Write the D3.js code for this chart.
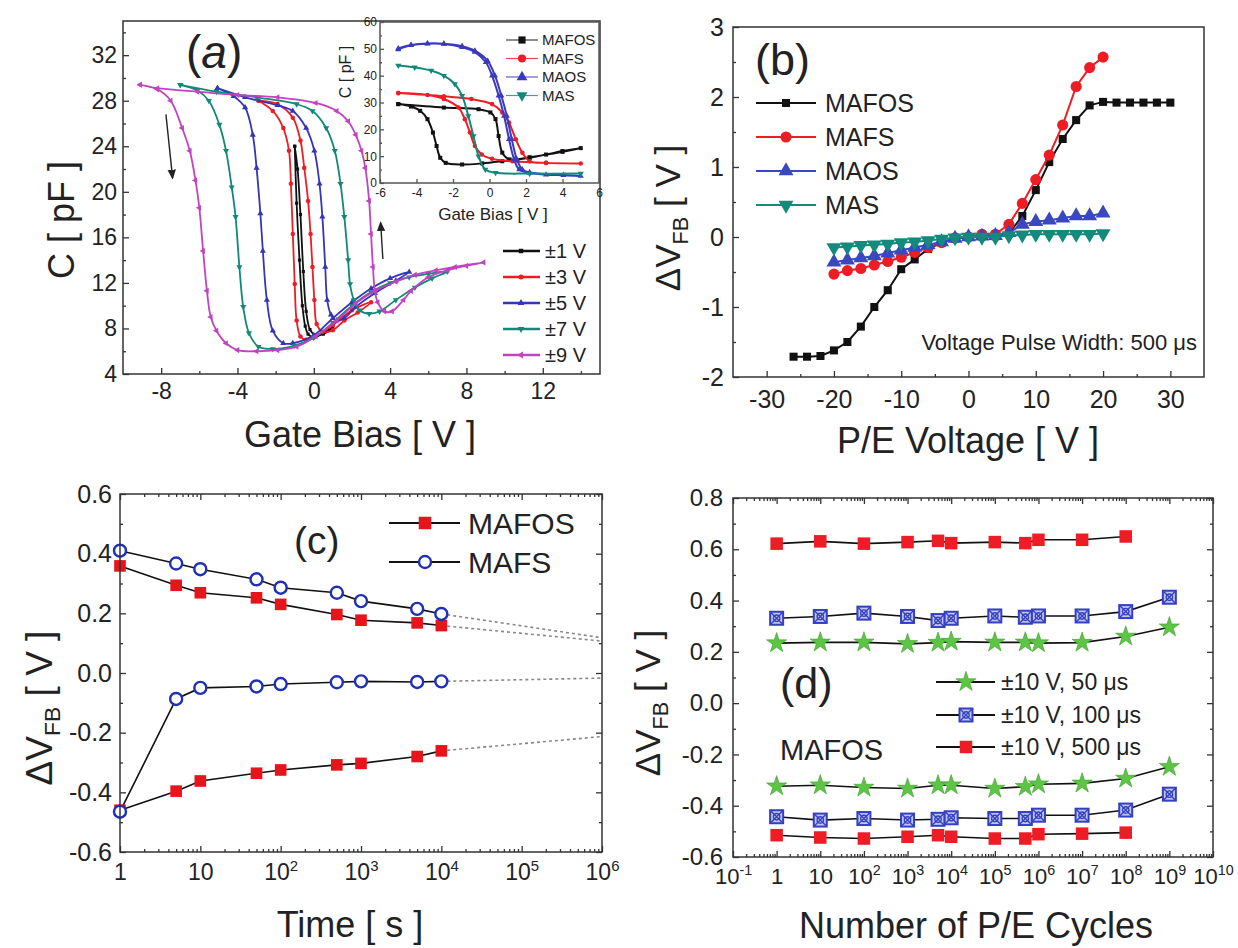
<!DOCTYPE html>
<html>
<head>
<meta charset="utf-8">
<script src="https://cdn.jsdelivr.net/npm/d3@7"></script>
<style>
body { margin: 0; background: #fff; }
svg text { font-family: 'Liberation Sans', Arial, Helvetica, sans-serif; fill: #222; }
</style>
</head>
<body>
<svg id="fig" width="1238" height="948"></svg>
<script>
// -----------------------------
// data, panel (a): C-V sweeps [V, pF]
// -----------------------------
const sweepLabels = ['±1 V', '±3 V', '±5 V', '±7 V', '±9 V']
const sweep1 = [[-1.0,24.0],[-0.9,19.0],[-0.75,14.0],[-0.6,10.0],[-0.45,8.2],[-0.3,7.5],[0.0,7.2],[0.5,7.6],[1.0,8.1],
    [0.5,7.5],[0.1,7.4],[-0.2,7.9],[-0.4,9.5],[-0.55,13.0],[-0.7,18.0],[-0.85,22.0],[-1.0,24.0]]
const sweep3 = [[-2.9,28.0],[-2.15,27.1],[-1.6,25.6],[-1.3,23.6],[-1.2,20.7],[-1.1,16.3],[-1.0,11.9],[-0.9,8.7],[-0.7,7.3],[-0.4,7.0],
    [0.0,7.2],[1.0,8.3],[2.0,9.6],[3.0,10.3],[2.3,9.4],[1.6,8.7],[1.0,7.85],[0.45,7.7],[0.15,8.4],[0.03,10.5],[-0.07,13.4],
    [-0.17,16.3],[-0.3,19.2],[-0.5,22.1],[-0.7,24.5],[-1.1,26.5],[-1.9,27.7],[-2.9,28.0]]
const sweep5 = [[-5.05,29.1],[-4.2,28.4],[-3.6,27.4],[-3.2,25.0],[-3.0,22.1],[-2.8,18.1],[-2.67,14.8],[-2.46,10.5],[-2.15,7.8],
    [-1.6,6.7],[-1.1,6.7],[0.0,7.4],[1.0,8.9],[2.0,10.3],[3.0,11.5],[4.0,12.4],[5.0,12.95],[4.3,12.2],[3.2,11.1],[2.2,9.9],
    [1.6,8.9],[1.2,8.7],[0.9,9.2],[0.7,10.5],[0.6,13.4],[0.45,17.8],[0.3,20.7],[0.03,23.6],[-0.4,25.6],[-1.1,27.1],
    [-1.9,27.6],[-3.6,28.3],[-5.05,29.1]]
const sweep7 = [[-7.0,29.4],[-6.1,28.9],[-5.5,28.0],[-4.95,25.9],[-4.6,23.6],[-4.3,20.4],[-4.1,17.8],[-3.9,13.4],[-3.7,9.9],
    [-3.4,7.6],[-2.9,6.4],[-2.15,6.2],[-1.0,6.5],[0.0,7.2],[1.0,8.5],[2.0,10.0],[3.0,11.2],[4.0,12.0],[5.0,12.5],[6.0,12.8],
    [7.0,13.0],[6.2,12.4],[5.3,11.6],[4.3,10.5],[3.45,9.5],[2.9,9.3],[2.4,9.6],[2.1,10.5],[1.9,11.9],[1.8,14.0],[1.6,17.8],
    [1.4,20.7],[1.1,23.6],[0.65,25.6],[-0.07,27.1],[-0.9,27.7],[-3.0,28.3],[-5.1,28.8],[-7.0,29.4]]
const sweep9 = [[-9.1,29.4],[-8.2,29.0],[-7.5,28.0],[-6.9,25.6],[-6.5,23.6],[-6.2,21.0],[-6.0,18.6],[-5.8,14.8],[-5.6,11.3],
    [-5.4,9.0],[-5.1,7.8],[-4.6,6.7],[-4.0,6.1],[-3.0,6.0],[-1.9,6.1],[-0.9,6.4],[0.1,7.3],[1.2,8.7],[2.2,10.2],[3.2,11.3],
    [4.3,12.1],[5.3,12.7],[6.4,13.1],[7.4,13.4],[8.9,13.8],[8.0,13.5],[7.0,13.1],[6.0,12.5],[5.1,11.3],[4.7,10.5],[4.1,9.5],
    [3.7,9.5],[3.35,10.3],[3.2,11.3],[3.1,13.4],[3.0,16.3],[2.9,19.2],[2.7,22.1],[2.5,23.6],[2.2,25.0],[1.8,26.2],[1.2,27.1],
    [0.1,27.8],[-1.9,28.3],[-4.0,28.5],[-6.1,28.8],[-8.2,29.1],[-9.1,29.4]]
// sweep direction arrows [x1, y1, x2, y2] in data units
const sweepArrows = [[-7.75, 26.8, -7.4, 21.2], [3.62, 14.1, 3.5, 17.3]]

// inset of (a)
const insetNames = ['MAFOS', 'MAFS', 'MAOS', 'MAS']
const insetMAFOS = [[-5,29.4],[-4.3,28.5],[-3.8,26.9],[-3.4,23.8],[-3.1,18.8],[-2.9,13.8],[-2.7,9.4],[-2.4,7.5],[-1.5,6.9],
    [-0.4,7.3],[0.7,8.1],[2.2,9.4],[3.1,10.6],[4.0,11.9],[5,13.0],[4.0,11.6],[2.2,9.6],[1.1,8.8],[0.7,11.3],[0.5,17.5],
    [0.33,23.8],[0.05,26.3],[-0.6,27.5],[-2.5,28.1],[-5,29.4]]
const insetMAFS = [[-5,33.5],[-3.4,32.8],[-2.5,31.3],[-1.7,28.1],[-1.35,23.8],[-1.07,18.8],[-0.8,13.8],[-0.42,10.6],[0.14,9.0],
    [1.26,8.1],[3.1,7.5],[5,7.3],[3.1,7.5],[2.2,8.1],[1.8,11.3],[1.44,16.3],[1.07,22.5],[0.7,26.3],[0.14,29.4],[-1.0,31.3],
    [-2.5,32.3],[-5,33.5]]
const insetMAOS = [[-5,49.8],[-4.3,51.3],[-3.4,51.9],[-2.5,51.8],[-1.5,50.6],[-0.8,48.8],[-0.2,45.0],[0.14,40.0],[0.5,32.5],
    [0.8,25.0],[1.07,16.3],[1.35,8.8],[1.63,5.0],[2.2,3.8],[3.1,3.1],[4.05,2.9],[5,2.6],[2.2,3.9],[1.8,5.0],[1.5,8.8],
    [1.22,16.3],[0.95,25.0],[0.65,32.5],[0.3,40.0],[-0.1,45.5],[-0.8,49.3],[-1.5,51.0],[-2.5,51.9],[-3.4,52.0],[-4.3,51.4],[-5,50.1]]
const insetMAS = [[-5,43.8],[-4.1,43.1],[-3.2,41.9],[-2.5,40.0],[-1.9,36.9],[-1.5,32.5],[-1.16,25.0],[-0.88,17.5],[-0.6,10.0],
    [-0.23,5.0],[0.33,3.8],[2.2,3.5],[5,3.5]]

// -----------------------------
// data, panel (b): flat-band shift vs P/E voltage
// -----------------------------
const peNames = ['MAFOS', 'MAFS', 'MAOS', 'MAS']
const pvMAFOS = [-26,-24,-22,-20,-18,-16,-14,-12,-10,-8,-6,-4,-2,0,2,4,6,8,10,12,14,16,18,20,22,24,26,28,30]
const dvMAFOS = [-1.71,-1.71,-1.70,-1.62,-1.50,-1.28,-1.00,-0.76,-0.46,-0.32,-0.17,-0.08,-0.02,0,0.01,0.01,0.05,0.30,0.67,
    1.07,1.40,1.67,1.88,1.93,1.92,1.92,1.92,1.92,1.92]
const pv = [-20,-18,-16,-14,-12,-10,-8,-6,-4,-2,0,2,4,6,8,10,12,14,16,18,20]
const dvMAFS = [-0.53,-0.48,-0.45,-0.40,-0.35,-0.29,-0.22,-0.15,-0.08,-0.01,0,0.04,0.04,0.18,0.48,0.82,1.17,1.60,2.15,2.42,2.57]
const dvMAOS = [-0.36,-0.33,-0.30,-0.27,-0.23,-0.19,-0.15,-0.11,-0.07,-0.02,0,0.01,0.02,0.06,0.18,0.22,0.24,0.27,0.30,0.30,0.34]
const dvMAS = [-0.15,-0.14,-0.12,-0.11,-0.10,-0.08,-0.07,-0.05,-0.03,-0.01,0,0,0,0.02,0.03,0.04,0.04,0.04,0.04,0.04,0.05]

// -----------------------------
// data, panel (c): retention
// -----------------------------
const retNames = ['MAFOS', 'MAFS']
const retTime = [1, 5, 10, 50, 100, 500, 1000, 5000, 10000]
const mafosProg = [0.359,0.294,0.269,0.252,0.230,0.196,0.177,0.168,0.159]
const mafosErase = [-0.46,-0.396,-0.362,-0.336,-0.325,-0.308,-0.303,-0.280,-0.261]
const mafsProg = [0.41,0.367,0.348,0.314,0.286,0.269,0.241,0.215,0.198]
const mafsErase = [-0.465,-0.087,-0.05,-0.045,-0.037,-0.031,-0.028,-0.030,-0.028]
const extrapTime = [1e4, 1e6]
const mafosProgExt = [0.159, 0.107]
const mafsProgExt = [0.198, 0.118]
const mafsEraseExt = [-0.028, -0.017]
const mafosEraseExt = [-0.261, -0.213]

// -----------------------------
// data, panel (d): endurance
// -----------------------------
const endNames = ['±10 V, 50 μs', '±10 V, 100 μs', '±10 V, 500 μs']
const cycles = [1, 10, 100, 1000, 5000, 1e4, 1e5, 5e5, 1e6, 1e7, 1e8, 1e9]
const up50 = [0.234,0.237,0.237,0.231,0.236,0.240,0.237,0.237,0.234,0.236,0.260,0.296]
const up100 = [0.331,0.338,0.351,0.338,0.322,0.331,0.340,0.335,0.340,0.340,0.357,0.413]
const up500 = [0.622,0.631,0.622,0.628,0.633,0.624,0.628,0.624,0.637,0.637,0.650]
const dn50 = [-0.324,-0.320,-0.329,-0.333,-0.320,-0.320,-0.333,-0.326,-0.316,-0.313,-0.294,-0.248]
const dn100 = [-0.443,-0.456,-0.450,-0.456,-0.453,-0.447,-0.450,-0.450,-0.437,-0.437,-0.417,-0.355]
const dn500 = [-0.515,-0.524,-0.528,-0.521,-0.515,-0.521,-0.528,-0.528,-0.511,-0.509,-0.505]

// -----------------------------
// helpers
// -----------------------------
const FONT = "'Liberation Sans', Arial, Helvetica, sans-serif"
const AX = '#333'
const svg = d3.select('#fig')
svg.append('rect').attr('width', 1238).attr('height', 948).attr('fill', '#fff')

function frame(g, x, y, stroke = AX, fill = 'none') {
    const [x0, x1] = x.range(), [y0, y1] = y.range()
    g.append('rect')
        .attr('x', x0).attr('y', y1)
        .attr('width', x1 - x0).attr('height', y0 - y1)
        .attr('fill', fill).attr('stroke', stroke).attr('stroke-width', 1.5)
}

function ticks(g, orient, scale, values, size, tx, ty, color = AX) {
    const sel = g.append('g')
        .attr('transform', 'translate(' + tx + ',' + ty + ')')
        .call(orient(scale).tickValues(values).tickSize(-size).tickFormat(''))
    sel.select('.domain').remove()
    sel.selectAll('line').attr('stroke', color).attr('stroke-width', 1.3)
    return sel
}

function labels(g, orient, scale, values, fmt, fs, pad, tx, ty) {
    const sel = g.append('g')
        .attr('transform', 'translate(' + tx + ',' + ty + ')')
        .call(orient(scale).tickValues(values).tickSize(0).tickPadding(pad).tickFormat(fmt))
    sel.attr('font-family', FONT).attr('font-size', fs)
    sel.select('.domain').remove()
    sel.selectAll('line').remove()
    sel.selectAll('text').attr('fill', '#222')
    return sel
}

function powLabels(sel, fs) {
    sel.selectAll('text').each(function (d) {
        const t = d3.select(this)
        const e = Math.round(Math.log10(d))
        t.text(null)
        if (e === 0) t.text('1')
        else if (e === 1) t.text('10')
        else {
            t.append('tspan').text('10')
            t.append('tspan').attr('dy', -fs * 0.4).attr('font-size', fs * 0.65).text(e)
        }
    })
}

function logMinor(lo, hi) {
    const out = []
    for (let e = lo; e < hi; e++) for (let k = 2; k <= 9; k++) out.push(k * Math.pow(10, e))
    return out
}

function yTitle(g, bx, cy, fs, main, sub, rest) {
    const t = g.append('text')
        .attr('transform', 'translate(' + bx + ',' + cy + ') rotate(-90)')
        .attr('text-anchor', 'middle').attr('font-size', fs)
    t.append('tspan').text(main)
    if (sub) {
        t.append('tspan').attr('font-size', fs * 0.62).attr('dy', fs * 0.22).text(sub)
        t.append('tspan').attr('dy', -fs * 0.22).text(rest)
    }
}

function xTitle(g, cx, by, fs, txt) {
    g.append('text').attr('x', cx).attr('y', by)
        .attr('text-anchor', 'middle').attr('font-size', fs).text(txt)
}

function marker(g, kind, x, y, color, size) {
    if (kind === 'xsquare') {
        const h = size / 2
        const m = g.append('g').attr('transform', 'translate(' + x + ',' + y + ')')
        m.append('rect').attr('x', -h).attr('y', -h).attr('width', size).attr('height', size)
            .attr('fill', '#c0c5f0').attr('stroke', color).attr('stroke-width', 2)
        m.append('path').attr('d', 'M' + (-h) + ',' + (-h) + 'L' + h + ',' + h + 'M' + h + ',' + (-h) + 'L' + (-h) + ',' + h)
            .attr('stroke', color).attr('stroke-width', 1.4)
        m.append('circle').attr('r', h * 0.5).attr('fill', 'none').attr('stroke', color).attr('stroke-width', 1.4)
        return
    }
    if (kind === 'ocircle') {
        g.append('circle').attr('cx', x).attr('cy', y).attr('r', size / 2)
            .attr('fill', '#fff').attr('stroke', color).attr('stroke-width', 2.4)
        return
    }
    const types = {
        square: [d3.symbolSquare, 0], circle: [d3.symbolCircle, 0], up: [d3.symbolTriangle, 0],
        down: [d3.symbolTriangle, 180], left: [d3.symbolTriangle, -90], star: [d3.symbolStar, 0]
    }
    const [type, rot] = types[kind]
    g.append('path')
        .attr('d', d3.symbol().type(type).size(size * size * (kind === 'star' ? 0.75 : 0.8))())
        .attr('transform', 'translate(' + x + ',' + y + ') rotate(' + rot + ')')
        .attr('fill', color)
        .attr('stroke', kind === 'star' ? '#3f9e2c' : 'none').attr('stroke-width', 0.6)
}

function clip(id, x, y) {
    const [x0, x1] = x.range(), [y0, y1] = y.range()
    svg.append('clipPath').attr('id', id).append('rect')
        .attr('x', x0).attr('y', y1).attr('width', x1 - x0).attr('height', y0 - y1)
    return 'url(#' + id + ')'
}

// -----------------------------
// panel (a)
// -----------------------------
const colA = ['#111', '#ee1c24', '#3535b8', '#10897a', '#c043c0']
const symA = ['square', 'circle', 'up', 'down', 'left']
const sweeps = [sweep1, sweep3, sweep5, sweep7, sweep9]

const xa = d3.scaleLinear().domain([-10, 15]).range([123, 600])
const ya = d3.scaleLinear().domain([4, 35]).range([374, 21])
const ga = svg.append('g')

ticks(ga, d3.axisBottom, xa, [-8, -4, 0, 4, 8, 12], 6, 0, 374)
ticks(ga, d3.axisBottom, xa, [-6, -2, 2, 6, 10, 14], 3, 0, 374)
ticks(ga, d3.axisLeft, ya, [4, 8, 12, 16, 20, 24, 28, 32], 6, 123, 0)
ticks(ga, d3.axisLeft, ya, [6, 10, 14, 18, 22, 26, 30, 34], 3, 123, 0)
labels(ga, d3.axisBottom, xa, [-8, -4, 0, 4, 8, 12], d => String(d), 23, 9, 0, 374)
labels(ga, d3.axisLeft, ya, [4, 8, 12, 16, 20, 24, 28, 32], d => String(d), 23, 6, 123, 0)

const lineA = d3.line().x(d => xa(d[0])).y(d => ya(d[1])).curve(d3.curveCatmullRom.alpha(0.5))
const curvesA = ga.append('g').attr('clip-path', clip('clipA', xa, ya))
sweeps.forEach((pts, i) => {
    const s = curvesA.append('g')
    s.append('path').attr('d', lineA(pts)).attr('fill', 'none')
        .attr('stroke', colA[i]).attr('stroke-width', 1.8)
    pts.forEach(p => marker(s, symA[i], xa(p[0]), ya(p[1]), colA[i], i === 0 ? 3.5 : 4.5))
})

// sweep arrows
svg.append('defs').append('marker')
    .attr('id', 'arrowA').attr('markerWidth', 8).attr('markerHeight', 8)
    .attr('refX', 6).attr('refY', 3).attr('orient', 'auto')
    .html('<path d="M0,0 L7,3 L0,6 Z" fill="#222" />')
sweepArrows.forEach(a => {
    ga.append('line')
        .attr('x1', xa(a[0])).attr('y1', ya(a[1])).attr('x2', xa(a[2])).attr('y2', ya(a[3]))
        .attr('stroke', '#222').attr('stroke-width', 1.4).attr('marker-end', 'url(#arrowA)')
})

// legend (a)
const legAy = [251, 277, 303, 329, 355]
sweepLabels.forEach((name, i) => {
    ga.append('line').attr('x1', 503).attr('x2', 540).attr('y1', legAy[i]).attr('y2', legAy[i])
        .attr('stroke', colA[i]).attr('stroke-width', 2.5)
    marker(ga, symA[i], 521, legAy[i], colA[i], 5)
    ga.append('text').attr('x', 545).attr('y', legAy[i]).attr('dy', '0.36em')
        .attr('font-size', 20).text(name)
})

// inset
const xi = d3.scaleLinear().domain([-6, 6]).range([380, 599])
const yi = d3.scaleLinear().domain([0, 60]).range([183, 22])
const gi = svg.append('g')
frame(gi, xi, yi, '#555', '#fff')
ticks(gi, d3.axisBottom, xi, [-6, -4, -2, 0, 2, 4, 6], 4, 0, 183, '#555')
ticks(gi, d3.axisLeft, yi, [0, 10, 20, 30, 40, 50, 60], 4, 380, 0, '#555')
ticks(gi, d3.axisLeft, yi, [5, 15, 25, 35, 45, 55], 2, 380, 0, '#555')
labels(gi, d3.axisBottom, xi, [-6, -4, -2, 0, 2, 4, 6], d => String(d), 12, 5, 0, 183)
    .selectAll('text').attr('fill', '#444')
labels(gi, d3.axisLeft, yi, [0, 10, 20, 30, 40, 50, 60], d => String(d), 12, 3, 380, 0)
    .selectAll('text').attr('fill', '#444')
gi.append('text').attr('x', 493).attr('y', 220).attr('text-anchor', 'middle')
    .attr('font-size', 17).attr('fill', '#333').text('Gate Bias [ V ]')
gi.append('text').attr('transform', 'translate(351,72) rotate(-90)').attr('text-anchor', 'middle')
    .attr('font-size', 16).attr('fill', '#333').text('C [ pF ]')

const colI = ['#111', '#ee1c24', '#3a3ac0', '#10897a']
const symI = ['square', 'circle', 'up', 'down']
const insets = [insetMAFOS, insetMAFS, insetMAOS, insetMAS]
const lineI = d3.line().x(d => xi(d[0])).y(d => yi(d[1])).curve(d3.curveCatmullRom.alpha(0.5))
const curvesI = gi.append('g').attr('clip-path', clip('clipI', xi, yi))
insets.forEach((pts, i) => {
    curvesI.append('path').attr('d', lineI(pts)).attr('fill', 'none')
        .attr('stroke', colI[i]).attr('stroke-width', 2)
    pts.forEach(p => marker(curvesI, symI[i], xi(p[0]), yi(p[1]), colI[i], 4.5))
})
const legIy = [40, 58.5, 77, 95.5]
insetNames.forEach((name, i) => {
    gi.append('line').attr('x1', 506).attr('x2', 538).attr('y1', legIy[i]).attr('y2', legIy[i])
        .attr('stroke', colI[i]).attr('stroke-width', 1.2).attr('opacity', 0.8)
    marker(gi, symI[i], 522, legIy[i], colI[i], 8)
    gi.append('text').attr('x', 542).attr('y', legIy[i]).attr('dy', '0.36em')
        .attr('font-size', 15).attr('fill', '#333').text(name)
})

frame(ga, xa, ya)
ga.append('text').attr('x', 186).attr('y', 68).attr('font-size', 46)
    .call(t => { t.append('tspan').text('('); t.append('tspan').attr('font-style', 'italic').text('a'); t.append('tspan').text(')') })
xTitle(ga, 360, 447, 36, 'Gate Bias [ V ]')
yTitle(ga, 74, 220, 36, 'C [ pF ]')

// -----------------------------
// panel (b)
// -----------------------------
const xb = d3.scaleLinear().domain([-35, 35]).range([733, 1204])
const yb = d3.scaleLinear().domain([-2, 3]).range([377, 27])
const gb = svg.append('g')
ticks(gb, d3.axisBottom, xb, [-30, -20, -10, 0, 10, 20, 30], 6, 0, 377)
ticks(gb, d3.axisBottom, xb, [-25, -15, -5, 5, 15, 25], 3, 0, 377)
ticks(gb, d3.axisLeft, yb, [-2, -1, 0, 1, 2, 3], 6, 733, 0)
ticks(gb, d3.axisLeft, yb, [-1.5, -0.5, 0.5, 1.5, 2.5], 3, 733, 0)
labels(gb, d3.axisBottom, xb, [-30, -20, -10, 0, 10, 20, 30], d => String(d), 25, 13, 0, 377)
labels(gb, d3.axisLeft, yb, [-2, -1, 0, 1, 2, 3], d => String(d), 25, 9, 733, 0)

const colB = ['#111', '#ee1c24', '#3a48c0', '#138a7c']
const symB = ['square', 'circle', 'up', 'down']
const sizeB = [9, 11, 11, 11]
const seriesB = [
    pvMAFOS.map((v, i) => [v, dvMAFOS[i]]),
    pv.map((v, i) => [v, dvMAFS[i]]),
    pv.map((v, i) => [v, dvMAOS[i]]),
    pv.map((v, i) => [v, dvMAS[i]])
]
const lineB = d3.line().x(d => xb(d[0])).y(d => yb(d[1]))
seriesB.forEach((pts, i) => {
    gb.append('path').attr('d', lineB(pts)).attr('fill', 'none').attr('stroke', colB[i]).attr('stroke-width', 2)
    pts.forEach(p => marker(gb, symB[i], xb(p[0]), yb(p[1]), colB[i], sizeB[i]))
})
const legBy = [103, 137, 171, 205]
peNames.forEach((name, i) => {
    gb.append('line').attr('x1', 756).attr('x2', 816).attr('y1', legBy[i]).attr('y2', legBy[i])
        .attr('stroke', colB[i]).attr('stroke-width', 2.2)
    marker(gb, symB[i], 786, legBy[i], colB[i], sizeB[i])
    gb.append('text').attr('x', 825).attr('y', legBy[i]).attr('dy', '0.36em')
        .attr('font-size', 25).text(name)
})
gb.append('text').attr('x', 1197).attr('y', 350).attr('text-anchor', 'end')
    .attr('font-size', 22).text('Voltage Pulse Width: 500 μs')
gb.append('text').attr('x', 755).attr('y', 75).attr('font-size', 45).text('(b)')
frame(gb, xb, yb)
xTitle(gb, 968, 453, 36, 'P/E Voltage [ V ]')
yTitle(gb, 680, 218, 35, 'ΔV', 'FB', ' [ V ]')

// -----------------------------
// panel (c)
// -----------------------------
const xc = d3.scaleLog().domain([1, 1e6]).range([120, 602])
const yc = d3.scaleLinear().domain([-0.6, 0.6]).range([852, 494])
const gc = svg.append('g')
const decC = [1, 10, 100, 1e3, 1e4, 1e5, 1e6]
ticks(gc, d3.axisBottom, xc, decC, 6, 0, 852)
ticks(gc, d3.axisBottom, xc, logMinor(0, 6), 3, 0, 852)
ticks(gc, d3.axisTop, xc, decC, 6, 0, 494)
ticks(gc, d3.axisTop, xc, logMinor(0, 6), 3, 0, 494)
const majC = [-0.6, -0.4, -0.2, 0, 0.2, 0.4, 0.6]
const minC = [-0.5, -0.3, -0.1, 0.1, 0.3, 0.5]
ticks(gc, d3.axisLeft, yc, majC, 6, 120, 0)
ticks(gc, d3.axisLeft, yc, minC, 3, 120, 0)
ticks(gc, d3.axisRight, yc, majC, 6, 602, 0)
ticks(gc, d3.axisRight, yc, minC, 3, 602, 0)
powLabels(labels(gc, d3.axisBottom, xc, decC, '', 23, 12, 0, 852), 23)
labels(gc, d3.axisLeft, yc, majC, d => d.toFixed(1), 25, 8, 120, 0)

const lineC = d3.line().x(d => xc(d[0])).y(d => yc(d[1]))
const extC = [mafsProgExt, mafosProgExt, mafsEraseExt, mafosEraseExt]
extC.forEach(v => {
    gc.append('path').attr('d', lineC(extrapTime.map((t, i) => [t, v[i]])))
        .attr('fill', 'none').attr('stroke', '#888').attr('stroke-width', 1.6).attr('stroke-dasharray', '3,3')
})
const mafosC = [mafosProg, mafosErase]
const mafsC = [mafsProg, mafsErase]
mafosC.concat(mafsC).forEach(v => {
    gc.append('path').attr('d', lineC(retTime.map((t, i) => [t, v[i]])))
        .attr('fill', 'none').attr('stroke', '#111').attr('stroke-width', 1.6)
})
mafosC.forEach(v => retTime.forEach((t, i) => marker(gc, 'square', xc(t), yc(v[i]), '#e8141c', 13)))
mafsC.forEach(v => retTime.forEach((t, i) => marker(gc, 'ocircle', xc(t), yc(v[i]), '#1f30b8', 12)))

const legCy = [523, 562]
retNames.forEach((name, i) => {
    gc.append('line').attr('x1', 389).attr('x2', 460).attr('y1', legCy[i]).attr('y2', legCy[i])
        .attr('stroke', '#111').attr('stroke-width', 1.8)
    marker(gc, i === 0 ? 'square' : 'ocircle', 425, legCy[i], i === 0 ? '#e8141c' : '#1f30b8', i === 0 ? 14 : 12)
    gc.append('text').attr('x', 468).attr('y', legCy[i]).attr('dy', '0.36em')
        .attr('font-size', 30).text(name)
})
gc.append('text').attr('x', 294).attr('y', 554).attr('font-size', 39).text('(c)')
frame(gc, xc, yc)
xTitle(gc, 350, 937, 36, 'Time [ s ]')
yTitle(gc, 52, 708, 37, 'ΔV', 'FB', ' [ V ]')

// -----------------------------
// panel (d)
// -----------------------------
const xd = d3.scaleLog().domain([0.1, 1e10]).range([733, 1213])
const yd = d3.scaleLinear().domain([-0.6, 0.8]).range([857, 498])
const gd = svg.append('g')
const decD = [0.1, 1, 10, 100, 1e3, 1e4, 1e5, 1e6, 1e7, 1e8, 1e9, 1e10]
ticks(gd, d3.axisBottom, xd, decD, 6, 0, 857)
ticks(gd, d3.axisBottom, xd, logMinor(-1, 10), 3, 0, 857)
ticks(gd, d3.axisTop, xd, decD, 6, 0, 498)
ticks(gd, d3.axisTop, xd, logMinor(-1, 10), 3, 0, 498)
const majD = [-0.6, -0.4, -0.2, 0, 0.2, 0.4, 0.6, 0.8]
const minD = [-0.5, -0.3, -0.1, 0.1, 0.3, 0.5, 0.7]
ticks(gd, d3.axisLeft, yd, majD, 6, 733, 0)
ticks(gd, d3.axisLeft, yd, minD, 3, 733, 0)
ticks(gd, d3.axisRight, yd, majD, 6, 1213, 0)
ticks(gd, d3.axisRight, yd, minD, 3, 1213, 0)
powLabels(labels(gd, d3.axisBottom, xd, decD, '', 22, 11, 0, 857), 22)
labels(gd, d3.axisLeft, yd, majD, d => d.toFixed(1), 24, 10, 733, 0)

const lineD = d3.line().x(d => xd(d[0])).y(d => yd(d[1]))
const colD = ['#5cc545', '#3440c0', '#ee1c24']
const symD = ['star', 'xsquare', 'square']
const sizeD = [13, 13, 14]
const seriesD = [[up50, dn50], [up100, dn100], [up500, dn500]]
seriesD.forEach(pair => pair.forEach(v => {
    gd.append('path').attr('d', lineD(v.map((y, i) => [cycles[i], y])))
        .attr('fill', 'none').attr('stroke', '#111').attr('stroke-width', 1.6)
}))
seriesD.forEach((pair, k) => pair.forEach(v => {
    v.forEach((y, i) => marker(gd, symD[k], xd(cycles[i]), yd(y), colD[k], sizeD[k]))
}))
const legDy = [682, 715, 747]
endNames.forEach((name, i) => {
    gd.append('line').attr('x1', 936).attr('x2', 995).attr('y1', legDy[i]).attr('y2', legDy[i])
        .attr('stroke', '#111').attr('stroke-width', 1.8)
    marker(gd, symD[i], 966, legDy[i], colD[i], sizeD[i])
    gd.append('text').attr('x', 1001).attr('y', legDy[i]).attr('dy', '0.36em')
        .attr('font-size', 23).text(name)
})
gd.append('text').attr('x', 780).attr('y', 698).attr('font-size', 43).text('(d)')
gd.append('text').attr('x', 780).attr('y', 760).attr('font-size', 29).text('MAFOS')
frame(gd, xd, yd)
xTitle(gd, 976, 938, 36, 'Number of P/E Cycles')
yTitle(gd, 660, 703, 35, 'ΔV', 'FB', ' [ V ]')
</script>
</body>
</html>
